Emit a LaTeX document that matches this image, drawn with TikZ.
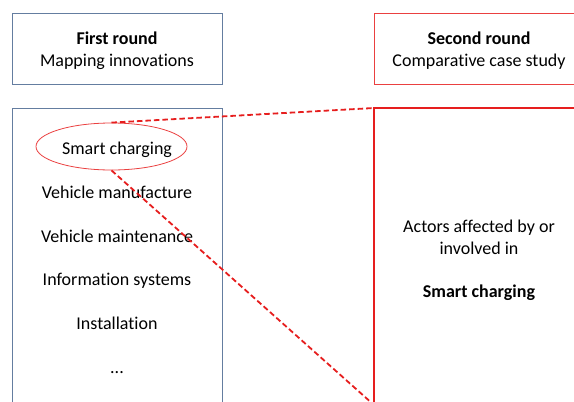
\documentclass[tikz,border=0pt]{standalone}
\usepackage{fontspec}
\setmainfont[Ligatures=NoCommon]{Carlito}
\usetikzlibrary{positioning, shapes.geometric}

\definecolor{boxblue}{RGB}{100,125,160}
\definecolor{boxred}{RGB}{230,30,30}

\begin{document}
\begin{tikzpicture}[
        x=1pt, y=-1pt,
        txt/.style={font=\fontsize{18}{22}\selectfont},
        round/.style={draw, minimum width=210pt, minimum height=71pt, inner sep=0pt},
        item/.style={txt, inner sep=0pt, text height=12pt, text depth=4pt},
        hl/.style={boxred, dashed, line width=1.8pt, dash pattern=on 5.5pt off 3pt},
    ]
    \useasboundingbox (0,0) rectangle (574,402);
    \clip (0,0) rectangle (574,402);
    % Round headers
    \node[round, draw=boxblue, line width=0.8pt] (first) at (117,48.5) {};
    \node[round, draw=boxred!85, line width=0.8pt] (second) at (479,48.5) {};
    \node[txt, align=center, inner sep=0pt] (first_txt) at ([yshift=-2.5pt]first.center) {\textbf{First round}\\Mapping innovations};
    \node[txt, align=center, inner sep=0pt] (second_txt) at ([yshift=-2.5pt]second.center) {\textbf{Second round}\\Comparative case study};
    % Content boxes
    \draw[boxblue, line width=0.8pt] (12,108) rectangle (222,420);
    \draw[boxred, line width=2pt] (374,108) coordinate (case_nw) rectangle (584,405);
    \coordinate (case_sw) at (374,405);
    % Innovations list
    \node[ellipse, draw=boxred!85, line width=0.8pt, minimum width=151pt, minimum height=47pt] (smart_ell) at (111.5,146.5) {};
    \node[item] (smart) at (117,150.5) {Smart charging};
    \node[item] (manuf) at (117,194.5) {Vehicle manufacture};
    \node[item, below=27.3pt of manuf] (maint) {Vehicle maintenance};
    \node[item, below=27.3pt of maint] (info) {Information systems};
    \node[item, below=27.3pt of info] (install) {Installation};
    \node[item, below=27.3pt of install] (dots) {...};
    % Actors text
    \node[txt, align=center, inner sep=0pt] (actors) at (479,237) {Actors affected by or\\involved in};
    \node[txt, inner sep=0pt, below=30pt of actors] (actors_smart) {\textbf{Smart charging}};
    % Zoom lines
    \draw[hl] (smart_ell.north) -- (case_nw);
    \draw[hl] (smart_ell.south) -- (case_sw);
\end{tikzpicture}
\end{document}
